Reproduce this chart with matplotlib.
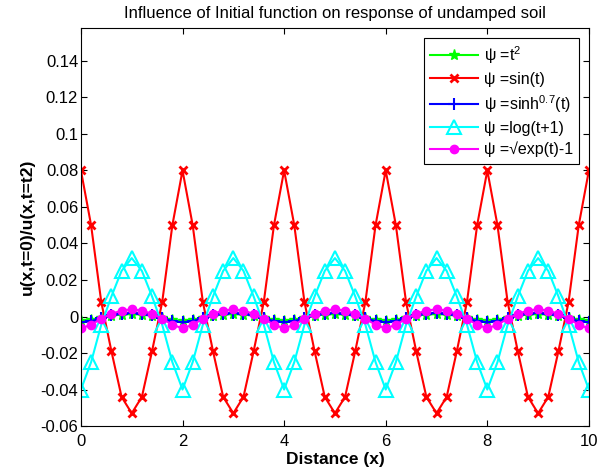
import numpy as np
import matplotlib.pyplot as plt

plt.rcParams['font.family'] = ['Liberation Sans', 'DejaVu Sans']
plt.rcParams['mathtext.fontset'] = 'custom'
plt.rcParams['mathtext.rm'] = 'Liberation Sans'
plt.rcParams['mathtext.it'] = 'Liberation Sans:italic'

# distance, step 0.2
x = np.round(np.arange(0, 10.01, 0.2), 1)

# psi = t^2
green = [-0.0025, -0.002, -0.0008, 0.0004, 0.0011, 0.0013, 0.0011, 0.0004, -0.0008, -0.002,
         -0.0025, -0.002, -0.0008, 0.0004, 0.0011, 0.0013, 0.0011, 0.0004, -0.0008, -0.002,
         -0.0025, -0.002, -0.0008, 0.0004, 0.0011, 0.0013, 0.0011, 0.0004, -0.0008, -0.002,
         -0.0025, -0.002, -0.0008, 0.0004, 0.0011, 0.0013, 0.0011, 0.0004, -0.0008, -0.002,
         -0.0025, -0.002, -0.0008, 0.0004, 0.0011, 0.0013, 0.0011, 0.0004, -0.0008, -0.002,
         -0.0025]
# psi = sin(t)
red = [0.08, 0.05, 0.008, -0.019, -0.044, -0.053, -0.044, -0.019, 0.008, 0.05,
       0.08, 0.05, 0.008, -0.019, -0.044, -0.053, -0.044, -0.019, 0.008, 0.05,
       0.08, 0.05, 0.008, -0.019, -0.044, -0.053, -0.044, -0.019, 0.008, 0.05,
       0.08, 0.05, 0.008, -0.019, -0.044, -0.053, -0.044, -0.019, 0.008, 0.05,
       0.08, 0.05, 0.008, -0.019, -0.044, -0.053, -0.044, -0.019, 0.008, 0.05,
       0.08]
# psi = sinh^0.7(t)
blue = [-0.0032, -0.0025, -0.001, 0.0006, 0.0016, 0.002, 0.0016, 0.0006, -0.001, -0.0025,
        -0.0032, -0.0025, -0.001, 0.0006, 0.0016, 0.002, 0.0016, 0.0006, -0.001, -0.0025,
        -0.0032, -0.0025, -0.001, 0.0006, 0.0016, 0.002, 0.0016, 0.0006, -0.001, -0.0025,
        -0.0032, -0.0025, -0.001, 0.0006, 0.0016, 0.002, 0.0016, 0.0006, -0.001, -0.0025,
        -0.0032, -0.0025, -0.001, 0.0006, 0.0016, 0.002, 0.0016, 0.0006, -0.001, -0.0025,
        -0.0032]
# psi = log(t+1)
cyan = [-0.04, -0.025, -0.0045, 0.011, 0.025, 0.032, 0.025, 0.011, -0.0045, -0.025,
        -0.04, -0.025, -0.0045, 0.011, 0.025, 0.032, 0.025, 0.011, -0.0045, -0.025,
        -0.04, -0.025, -0.0045, 0.011, 0.025, 0.032, 0.025, 0.011, -0.0045, -0.025,
        -0.04, -0.025, -0.0045, 0.011, 0.025, 0.032, 0.025, 0.011, -0.0045, -0.025,
        -0.04, -0.025, -0.0045, 0.011, 0.025, 0.032, 0.025, 0.011, -0.0045, -0.025,
        -0.04]
# psi = sqrt(exp(t))-1
magenta = [-0.0065, -0.0045, -0.0012, 0.0015, 0.0032, 0.004, 0.0032, 0.0015, -0.0012, -0.0045,
           -0.0065, -0.0045, -0.0012, 0.0015, 0.0032, 0.004, 0.0032, 0.0015, -0.0012, -0.0045,
           -0.0065, -0.0045, -0.0012, 0.0015, 0.0032, 0.004, 0.0032, 0.0015, -0.0012, -0.0045,
           -0.0065, -0.0045, -0.0012, 0.0015, 0.0032, 0.004, 0.0032, 0.0015, -0.0012, -0.0045,
           -0.0065, -0.0045, -0.0012, 0.0015, 0.0032, 0.004, 0.0032, 0.0015, -0.0012, -0.0045,
           -0.0065]

yticks = [-0.06, -0.04, -0.02, 0, 0.02, 0.04, 0.06, 0.08, 0.1, 0.12, 0.14]
ytick_labels = ['-0.06', '-0.04', '-0.02', '0', '0.02', '0.04', '0.06', '0.08', '0.1', '0.12', '0.14']
xticks = [0, 2, 4, 6, 8, 10]

fig = plt.figure(figsize=(6.04, 4.75), dpi=100)
ax = fig.add_axes([0.134, 0.103, 0.841, 0.838])

ax.plot(x, green, color='#00ff00', lw=1.5, ls='-', marker='*', ms=8, label=r'ψ =t$^{2}$')
ax.plot(x, red, color='red', lw=1.5, marker='x', ms=6, mew=2, label='ψ =sin(t)')
ax.plot(x, blue, color='blue', lw=1.5, marker='+', ms=8, mew=1.5, label=r'ψ =sinh$^{0.7}$(t)')
ax.plot(x, cyan, color='cyan', lw=1.5, marker='^', ms=9.5, mfc='none', mew=1.5, label='ψ =log(t+1)')
ax.plot(x, magenta, color='magenta', lw=1.5, marker='o', ms=6, label='ψ =√exp(t)-1')

ax.set_xlim(0, 10)
ax.set_ylim(-0.06, 0.158)
ax.set_xticks(xticks)
ax.set_xticklabels([str(t) for t in xticks])
ax.set_yticks(yticks)
ax.set_yticklabels(ytick_labels)
ax.tick_params(direction='in', top=True, right=True, labelsize=12, length=4)
ax.tick_params(axis='x', pad=6)
ax.tick_params(axis='y', pad=2)

ax.set_title('Influence of Initial function on response of undamped soil', fontsize=12, pad=7)
ax.set_xlabel('Distance (x)', fontsize=12.5, fontweight='bold', labelpad=2)
ax.set_ylabel('u(x,t=0)/u(x,t=t2)', fontsize=12.5, fontweight='bold', labelpad=4)

leg = ax.legend(loc='upper right', fontsize=11.5, fancybox=False, framealpha=1,
                edgecolor='black', borderaxespad=0.6, handlelength=3.0, handletextpad=0.35,
                labelspacing=0.38, borderpad=0.4)
leg.get_frame().set_linewidth(0.8)

fig.savefig('out.png', dpi=100)
